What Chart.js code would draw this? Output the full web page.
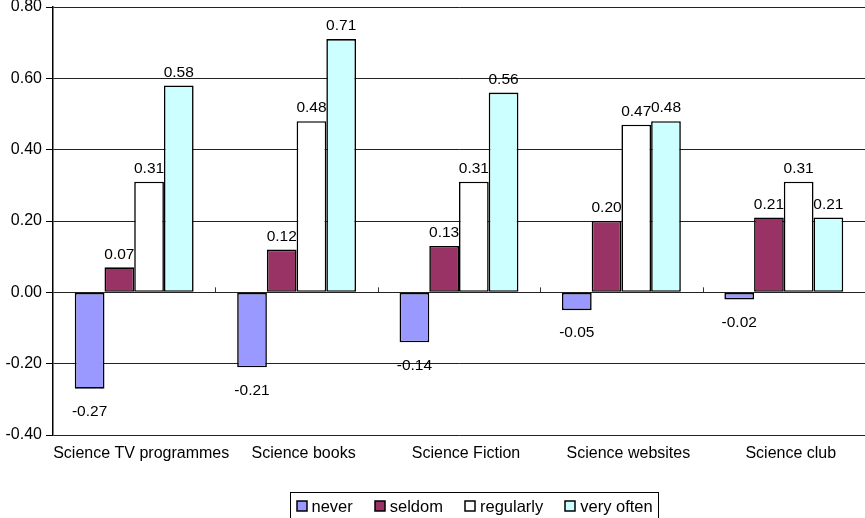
<!DOCTYPE html>
<html>
<head>
<meta charset="utf-8">
<script src="https://cdn.jsdelivr.net/npm/chart.js@4.4.1/dist/chart.umd.min.js"></script>
<style>
  html, body { margin: 0; padding: 0; background: #fff; }
  #wrap { width: 865px; height: 518px; }
</style>
</head>
<body>
<div id="wrap"><canvas id="c" width="865" height="518"></canvas></div>
<script>
// Media categories and how often pupils use them
const categories = ['Science TV programmes', 'Science books', 'Science Fiction', 'Science websites', 'Science club'];
const seriesNames = ['never', 'seldom', 'regularly', 'very often'];
const never     = [-0.27, -0.21, -0.14, -0.05, -0.02];
const seldom    = [0.07, 0.12, 0.13, 0.20, 0.21];
const regularly = [0.31, 0.48, 0.31, 0.47, 0.31];
const veryOften = [0.58, 0.71, 0.56, 0.48, 0.21];
const yTicks    = [-0.40, -0.20, 0.00, 0.20, 0.40, 0.60, 0.80];

const fills = ['#9999FF', '#993366', '#FFFFFF', '#CCFFFF'];
const FONT = 'Liberation Sans, Arial, Helvetica, sans-serif';

// value labels above positive bars and below negative ones
const valueLabels = {
  id: 'valueLabels',
  afterDatasetsDraw(chart) {
    const ctx = chart.ctx;
    ctx.save();
    ctx.font = '15.5px ' + FONT;
    ctx.fillStyle = '#000';
    ctx.textAlign = 'center';
    ctx.textBaseline = 'middle';
    chart.data.datasets.forEach((ds, di) => {
      const meta = chart.getDatasetMeta(di);
      meta.data.forEach((bar, i) => {
        const v = ds.data[i];
        const y = v >= 0 ? bar.y - 13 : bar.y + 23;
        ctx.fillText(v.toFixed(2), bar.x, y);
      });
    });
    ctx.restore();
  }
};

// category axis tick marks sitting on the zero line
const zeroAxisTicks = {
  id: 'zeroAxisTicks',
  afterDatasetsDraw(chart) {
    const xs = chart.scales.x, ys = chart.scales.y;
    const y0 = ys.getPixelForValue(0);
    const ctx = chart.ctx;
    ctx.save();
    ctx.strokeStyle = '#333';
    ctx.lineWidth = 1;
    ctx.beginPath();
    for (let i = 0; i < categories.length - 1; i++) {
      const xb = Math.round((xs.getPixelForValue(i) + xs.getPixelForValue(i + 1)) / 2) + 0.5;
      ctx.moveTo(xb, y0);
      ctx.lineTo(xb, y0 - 5);
    }
    ctx.stroke();
    ctx.restore();
  }
};

// framed legend row under the category labels
const boxedLegend = {
  id: 'boxedLegend',
  afterDraw(chart) {
    const ctx = chart.ctx;
    ctx.save();
    ctx.font = '16.5px ' + FONT;
    const box = 10, gapText = 5, gapItem = 22, pad = 6;
    const names = chart.data.datasets.map(d => d.label);
    const widths = names.map(n => ctx.measureText(n).width);
    let total = pad * 2;
    widths.forEach((w, i) => { total += box + gapText + w + (i < widths.length - 1 ? gapItem : 0); });
    const cx = 474;
    const left = Math.round(cx - total / 2) + 0.5;
    const top = 492.5;
    const cy = 506;
    ctx.strokeStyle = '#000';
    ctx.lineWidth = 1;
    ctx.strokeRect(left, top, Math.round(total), 30);
    let x = left + pad;
    chart.data.datasets.forEach((ds, i) => {
      ctx.fillStyle = ds.backgroundColor;
      ctx.fillRect(Math.round(x), cy - 5, box, box);
      ctx.strokeStyle = '#000';
      ctx.lineWidth = 1.5;
      ctx.strokeRect(Math.round(x), cy - 5, box, box);
      ctx.fillStyle = '#000';
      ctx.textAlign = 'left';
      ctx.textBaseline = 'middle';
      ctx.fillText(names[i], x + box + gapText, cy + 1);
      x += box + gapText + widths[i] + gapItem;
    });
    ctx.restore();
  }
};

const seriesData = [never, seldom, regularly, veryOften];

new Chart(document.getElementById('c'), {
  type: 'bar',
  data: {
    labels: categories,
    datasets: seriesNames.map((name, i) => ({
      label: name,
      data: seriesData[i],
      backgroundColor: fills[i],
      borderColor: '#000',
      borderWidth: 1.6,
      borderSkipped: false,
      categoryPercentage: 0.732,
      barPercentage: 1.0
    }))
  },
  options: {
    responsive: false,
    animation: false,
    devicePixelRatio: 1,
    layout: { padding: { top: 7, right: 0, left: 0, bottom: 53 } },
    plugins: {
      legend: { display: false },
      tooltip: { enabled: false }
    },
    scales: {
      x: {
        grid: { display: false, drawTicks: false },
        border: { display: false },
        ticks: {
          color: '#000',
          font: { family: FONT, size: 16 },
          padding: 9,
          labelOffset: 7,
          maxRotation: 0,
          autoSkip: false
        },
        afterFit(scale) {
          scale.height = 30;
          scale.paddingLeft = 0;
          scale.paddingRight = 0;
        }
      },
      y: {
        min: -0.4,
        max: 0.8,
        afterBuildTicks(scale) {
          scale.ticks = yTicks.map(v => ({ value: v }));
        },
        grid: {
          color: '#222',
          lineWidth: 1,
          drawTicks: true,
          tickLength: 7,
          tickColor: '#000'
        },
        border: { display: true, color: '#000', width: 1.5 },
        ticks: {
          color: '#000',
          font: { family: FONT, size: 16 },
          padding: 4,
          callback: v => Number(v).toFixed(2)
        },
        afterFit(scale) {
          scale.width = 53;
          scale.paddingTop = 0;
          scale.paddingBottom = 0;
        }
      }
    }
  },
  plugins: [valueLabels, zeroAxisTicks, boxedLegend]
});
</script>
</body>
</html>
